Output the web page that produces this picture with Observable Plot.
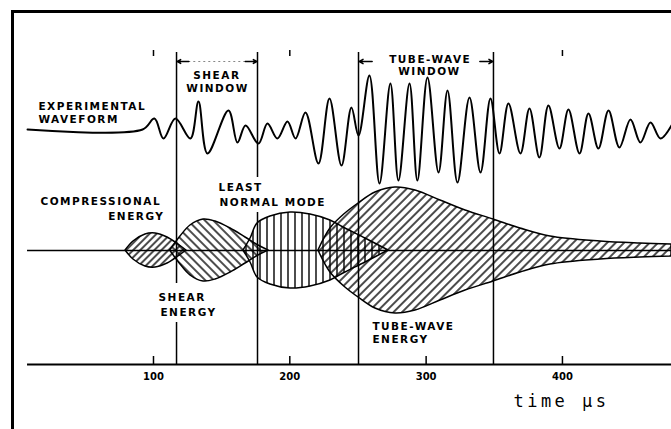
<!DOCTYPE html>
<html><head><meta charset="utf-8">
<script src="https://cdn.jsdelivr.net/npm/d3@7"></script>
<script src="https://cdn.jsdelivr.net/npm/@observablehq/plot@0.6"></script>
<style>
body{margin:0;background:#fff;}
#wrap{position:relative;width:671px;height:429px;overflow:hidden;}
#frame{position:absolute;left:11px;top:10px;width:700px;height:450px;border-left:3px solid #000;border-top:3px solid #000;pointer-events:none;}
</style></head><body><div id="wrap"><div id="chart"></div><div id="frame"></div></div>
<script>
// ---- data (time in microseconds, amplitudes in drawing units) ----
const waveTime = [7.6, 92, 100.7, 107.3, 116.1, 127.1, 133.0, 139.6, 155.0, 161.6, 167.5, 177.0, 183.6, 190.9, 198.3, 204.2, 211.5, 221.0, 229.1, 237.9, 245.2, 250.4, 258.4, 265.8, 273.8, 279.7, 287.8, 293.6, 301.0, 309.1, 315.7, 323.0, 331.8, 339.9, 347.2, 353.8, 360.4, 369.2, 375.8, 383.1, 389.7, 397.8, 404.4, 412.5, 419.1, 426.4, 433.8, 441.8, 449.9, 457.2, 464.6, 471.9, 480.0];
const waveAmp  = [0, 0, 11, -9, 11, -9, 28, -24, 19, -13, 4, -14, 6, -9, 8, -9, 17, -34, 31, -36, 22, -6, 54, -54, 46, -51, 46, -51, 52, -43, 39, -53, 32, -43, 31, -24, 26, -24, 21, -28, 24, -19, 20, -24, 16, -19, 19, -18, 10, -13, 7, -9, 4];

const compTime = [79.5, 85.3, 94.1, 101.5, 110.3, 118.3, 124.2];
const compHalf = [0, 9, 16, 17, 13, 6, 0];
const shearTime = [112.2, 119.8, 127.1, 136.7, 145.5, 156.5, 167.5, 177.0, 184.4];
const shearHalf = [0, 14, 25, 31, 29, 22, 13, 5, 0];
const modeTime = [166.0, 171.2, 176.3, 185.8, 200.5, 215.2, 229.8, 240.8, 255.5, 272.4];
const modeHalf = [0, 12, 27, 34, 38, 36, 30, 22, 12, 0];
const tubeTime = [221.0, 229.8, 240.8, 250.4, 262.8, 277.5, 292.2, 310.5, 328.9, 349.4, 369.2, 391.2, 427.9, 457.2, 480.0];
const tubeHalf = [0, 22, 37, 47, 58, 63, 60, 50, 40, 31, 22, 14, 9, 7, 6];

const windowEdges = [116.9, 176.3, 250.4, 349.4];
const axisTicks = [100, 200, 300, 400];
const topTicks = [100, 200, 400];

// ---- layout constants ----
const WAVE_BASE = 121, AXIS_V = -114, TOP_V = 198, ARROW_V = 189;
const zip = (ts, vs) => ts.map((t, i) => ({t, v: vs[i]}));

const segments = [
  {t: windowEdges[0], v1: TOP_V, v2: -33}, {t: windowEdges[0], v1: -72, v2: AXIS_V},
  {t: windowEdges[1], v1: TOP_V, v2: 73}, {t: windowEdges[1], v1: 38, v2: AXIS_V},
  {t: windowEdges[2], v1: TOP_V, v2: AXIS_V}, {t: windowEdges[3], v1: TOP_V, v2: AXIS_V}
];
const arrows = [
  {x1: windowEdges[0] + 9, x2: windowEdges[0] + 0.6}, {x1: windowEdges[1] - 9, x2: windowEdges[1] - 0.6},
  {x1: windowEdges[2] + 10, x2: windowEdges[2] + 0.6}, {x1: windowEdges[3] - 10, x2: windowEdges[3] - 0.6}
];
const labels = [
  {t: 15.6, v: 144, s: "EXPERIMENTAL", a: "start"},
  {t: 15.6, v: 131, s: "WAVEFORM", a: "start"},
  {t: 146.5, v: 175, s: "SHEAR", a: "middle"},
  {t: 147.0, v: 162, s: "WINDOW", a: "middle"},
  {t: 303.0, v: 191, s: "TUBE-WAVE", a: "middle"},
  {t: 302.4, v: 179, s: "WINDOW", a: "middle"},
  {t: 17.1, v: 49, s: "COMPRESSIONAL", a: "start"},
  {t: 108.0, v: 34, s: "ENERGY", a: "end"},
  {t: 147.7, v: 63, s: "LEAST", a: "start"},
  {t: 148.4, v: 48, s: "NORMAL MODE", a: "start"},
  {t: 103.7, v: -47, s: "SHEAR", a: "start"},
  {t: 105.1, v: -62, s: "ENERGY", a: "start"},
  {t: 260.6, v: -76, s: "TUBE-WAVE", a: "start"},
  {t: 260.6, v: -89, s: "ENERGY", a: "start"}
];

const lens = (ts, hs, fill) => Plot.areaY(zip(ts, hs), {
  x: "t", y1: d => -d.v, y2: d => d.v, curve: "catmull-rom",
  fill, stroke: "#000", strokeWidth: 1.5
});
const labelMark = (anchor) => Plot.text(labels.filter(d => d.a === anchor), {
  x: "t", y: "v", text: "s", textAnchor: anchor, fontSize: 10.5, fontWeight: "bold"
});

const chart = Plot.plot({
  width: 671, height: 429,
  marginTop: 0, marginBottom: 65, marginLeft: 0, marginRight: 0,
  x: {domain: [-12.23, 480], axis: null},
  y: {domain: [AXIS_V, 250], axis: null},
  style: {fontFamily: "DejaVu Sans", color: "#000", background: "transparent"},
  marks: [
    Plot.ruleY([0], {x1: 7.6, x2: 480, stroke: "#000", strokeWidth: 1.5}),
    lens(tubeTime, tubeHalf, "url(#hTube)"),
    lens(modeTime, modeHalf, "url(#hMode)"),
    lens(shearTime, shearHalf, "url(#hShear)"),
    lens(compTime, compHalf, "url(#hComp)"),
    Plot.ruleX(segments, {x: "t", y1: "v1", y2: "v2", stroke: "#000", strokeWidth: 1.5}),
    Plot.ruleX(topTicks, {x: d => d, y1: 194, y2: 200, stroke: "#000", strokeWidth: 1.5}),
    Plot.ruleY([ARROW_V], {x1: windowEdges[0] + 9, x2: windowEdges[1] - 9, stroke: "#888", strokeWidth: 1, strokeDasharray: "2,3"}),
    Plot.arrow(arrows, {x1: "x1", x2: "x2", y1: ARROW_V, y2: ARROW_V, stroke: "#000", strokeWidth: 1.5, headLength: 6}),
    Plot.line(zip(waveTime, waveAmp), {x: "t", y: d => WAVE_BASE + d.v, curve: "catmull-rom", stroke: "#000", strokeWidth: 2}),
    Plot.ruleY([AXIS_V], {x1: 7.6, x2: 480, stroke: "#000", strokeWidth: 2}),
    Plot.ruleX(axisTicks, {x: d => d, y1: AXIS_V, y2: AXIS_V + 8, stroke: "#000", strokeWidth: 1.5}),
    Plot.axisX({ticks: axisTicks, tickSize: 0, tickPadding: 8, fontSize: 10, label: null, tickFormat: d => String(d), fontWeight: "bold"}),
    labelMark("start"), labelMark("middle"), labelMark("end"),
    Plot.text(["time μs"], {x: 399.3, y: -151, text: d => d, fontSize: 17, fontFamily: "DejaVu Sans Mono", textAnchor: "middle"})
  ]
});

document.getElementById("chart").appendChild(chart);
const labelSet = new Set(labels.map(d => d.s));
chart.querySelectorAll("text").forEach(t => {
  if (labelSet.has(t.textContent)) t.style.letterSpacing = "1.5px";
  if (t.textContent === "time μs") t.style.letterSpacing = "3.5px";
});
const defs = d3.select(chart).insert("defs", ":first-child");
function hatch(id, angle, spacing, sw) {
  const p = defs.append("pattern").attr("id", id).attr("patternUnits", "userSpaceOnUse")
    .attr("width", spacing).attr("height", spacing).attr("patternTransform", `rotate(${angle})`);
  p.append("line").attr("x1", 1).attr("y1", 0).attr("x2", 1).attr("y2", spacing)
    .attr("stroke", "#000").attr("stroke-width", sw);
}
hatch("hTube", 45, 6, 1.4);
hatch("hComp", 45, 5, 1.4);
hatch("hShear", -45, 6, 1.4);
hatch("hMode", 0, 7, 1.4);
</script></body></html>
